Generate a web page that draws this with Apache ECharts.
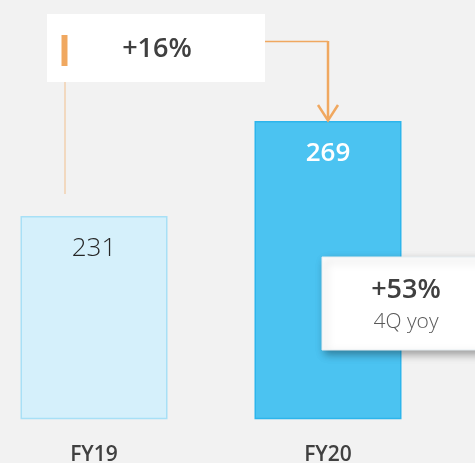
<!DOCTYPE html>
<html>
<head>
<meta charset="utf-8">
<script src="https://cdn.jsdelivr.net/npm/echarts@6/dist/echarts.min.js"></script>
<style>
  html, body { margin: 0; padding: 0; background: #f2f2f2; }
  #chart { width: 475px; height: 463px; }
</style>
</head>
<body>
<div id="chart"></div>
<script>
// data
const categories = ["FY19", "FY20"];
const values = [231, 269];
const growthLabel = "+16%";
const quarterLabel = "+53%";
const quarterNote = "4Q yoy";

const FONT = "'Open Sans', 'Noto Sans', sans-serif";
const ORANGE = "#f0a860";

const chart = echarts.init(document.getElementById("chart"));

const barStyles = [
  { fill: "#d5f0fb", border: "#a8e0f6", label: "#262626", weight: 300 },
  { fill: "#4bc3f1", border: "#2db5ec", label: "#ffffff", weight: 600 }
];

chart.setOption({
  backgroundColor: "#f2f2f2",
  animation: false,
  grid: { left: -23, width: 468, top: 43.5, height: 375, outerBoundsMode: "none" },
  xAxis: {
    type: "category",
    data: categories,
    axisLine: { show: false },
    axisTick: { show: false },
    axisLabel: {
      color: "#404040",
      fontFamily: FONT,
      fontSize: 21,
      fontWeight: 600,
      margin: 26
    }
  },
  yAxis: {
    type: "value",
    min: 150,
    max: 300,
    show: false
  },
  series: [
    {
      type: "bar",
      barWidth: 147,
      data: values.map((v, i) => ({
        value: v,
        itemStyle: {
          color: barStyles[i].fill,
          borderColor: barStyles[i].border,
          borderWidth: 1.5
        },
        label: {
          color: barStyles[i].label,
          fontWeight: barStyles[i].weight
        }
      })),
      label: {
        show: true,
        position: "insideTop",
        distance: 20,
        fontFamily: FONT,
        fontSize: 26
      }
    }
  ]
});

// annotations placed relative to the bars
const fy19 = chart.convertToPixel({ seriesIndex: 0 }, [0, values[0]]);
const fy20 = chart.convertToPixel({ seriesIndex: 0 }, [1, values[1]]);

chart.setOption({
  graphic: [
    // left connector from the +16% box
    {
      type: "line",
      z: 100,
      shape: { x1: 65, y1: 82, x2: 65, y2: fy19[1] - 22 },
      style: { stroke: "#f2c08e", lineWidth: 1 }
    },
    // connector to FY20 bar
    {
      type: "line",
      z: 100,
      shape: { x1: 265, y1: 41.5, x2: fy20[0], y2: 41.5 },
      style: { stroke: ORANGE, lineWidth: 1.5 }
    },
    {
      type: "line",
      z: 100,
      shape: { x1: fy20[0], y1: 41, x2: fy20[0], y2: fy20[1] - 1 },
      style: { stroke: ORANGE, lineWidth: 2.5 }
    },
    {
      type: "polyline",
      z: 100,
      shape: {
        points: [
          [fy20[0] - 10, fy20[1] - 16],
          [fy20[0], fy20[1] - 0.5],
          [fy20[0] + 10, fy20[1] - 16]
        ]
      },
      style: { stroke: ORANGE, lineWidth: 2.5, fill: null }
    },
    // +16% box
    {
      type: "rect",
      z: 100,
      shape: { x: 47, y: 14, width: 218, height: 68 },
      style: { fill: "#ffffff" }
    },
    {
      type: "rect",
      z: 101,
      shape: { x: 61.5, y: 35, width: 6, height: 31 },
      style: { fill: ORANGE }
    },
    {
      type: "text",
      z: 101,
      x: 157,
      y: 49,
      style: {
        text: growthLabel,
        fill: "#404040",
        font: "600 27px " + FONT,
        align: "center",
        verticalAlign: "middle"
      }
    },
    // +53% box
    {
      type: "rect",
      z: 100,
      shape: { x: 322, y: 257, width: 170, height: 93 },
      style: {
        fill: "#ffffff",
        stroke: "#e6eef2",
        lineWidth: 1,
        shadowBlur: 8,
        shadowOffsetX: 3,
        shadowOffsetY: 4,
        shadowColor: "rgba(0,0,0,0.35)"
      }
    },
    {
      type: "text",
      z: 101,
      x: 406,
      y: 290,
      style: {
        text: quarterLabel,
        fill: "#404040",
        font: "600 27px " + FONT,
        align: "center",
        verticalAlign: "middle"
      }
    },
    {
      type: "text",
      z: 101,
      x: 406,
      y: 322,
      style: {
        text: quarterNote,
        fill: "#595959",
        font: "300 21px " + FONT,
        align: "center",
        verticalAlign: "middle"
      }
    }
  ]
});
</script>
</body>
</html>
